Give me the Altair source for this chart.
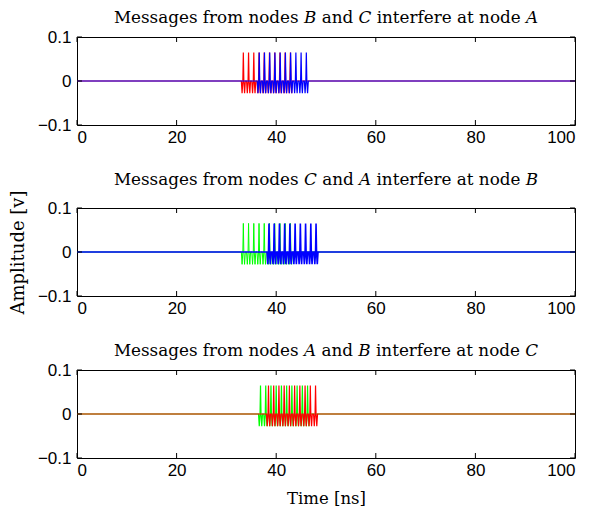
import altair as alt
import pandas as pd

# ---------------- data ----------------
x_ticks = [0, 20, 40, 60, 80, 100]
y_ticks = [-0.1, 0, 0.1]
t_span = [0, 100]

# shape of one UWB pulse (offset in ns, amplitude in v)
pulse_offsets = [-0.4, -0.25, -0.1, 0.0, 0.1, 0.25, 0.4]
pulse_values = [0.0, -0.028, 0.0, 0.065, 0.0, -0.028, 0.0]

# pulse arrival times [ns]
p1_red = [33.4, 34.45, 35.5, 36.55, 37.6, 38.65, 39.7, 40.75, 41.8, 42.85]
p1_blue = [36.6, 37.65, 38.7, 39.75, 40.8, 41.85, 42.9, 43.95, 45.0, 46.05]
p2_green = [33.4, 34.45, 35.5, 36.55, 37.6, 38.65, 39.7, 40.75, 41.8, 42.85]
p2_blue = [38.55, 39.6, 40.65, 41.7, 42.75, 43.8, 44.85, 45.9, 46.95, 48.0]
p3_green = [36.85, 37.9, 38.95, 40.0, 41.05, 42.1, 43.15, 44.2, 45.25, 46.3]
p3_red = [38.45, 39.5, 40.55, 41.6, 42.65, 43.7, 44.75, 45.8, 46.85, 47.9]

titles = [
    "Messages from nodes \U0001D435 and \U0001D436 interfere at node \U0001D434",
    "Messages from nodes \U0001D436 and \U0001D434 interfere at node \U0001D435",
    "Messages from nodes \U0001D434 and \U0001D435 interfere at node \U0001D436",
]

RED, GREEN, BLUE = "#ff0000", "#00ff00", "#0000ff"
W, H = 498, 88


def waveform(times):
    t = [t_span[0]]
    v = [0.0]
    for p in times:
        for o, val in zip(pulse_offsets, pulse_values):
            t.append(round(p + o, 3))
            v.append(val)
    t.append(t_span[1])
    v.append(0.0)
    return pd.DataFrame({"t": t, "v": v})


def panel(title, series, ytitle="", xtitle=""):
    xaxis = alt.Axis(values=x_ticks, format="~r", title=xtitle,
                     titleFont="DejaVu Serif", titleFontSize=16.5,
                     titleFontWeight="normal", titlePadding=12)
    yaxis = alt.Axis(values=y_ticks, format="~r", title=ytitle,
                     titleFont="DejaVu Serif", titleFontSize=18,
                     titleFontWeight="normal", titlePadding=10)
    xs = alt.Scale(domain=t_span, nice=False, zero=False)
    ys = alt.Scale(domain=[-0.1, 0.1], nice=False, zero=False)
    X = alt.X("t:Q", scale=xs, axis=xaxis)
    Y = alt.Y("v:Q", scale=ys, axis=yaxis)
    layers = []
    for times, color, sw in series:
        layers.append(
            alt.Chart(waveform(times)).mark_line(color=color, strokeWidth=sw, clip=True)
            .encode(x=X, y=Y)
        )
    xt = pd.DataFrame({"t": x_ticks})
    yt = pd.DataFrame({"v": y_ticks})
    layers.append(alt.Chart(xt).mark_rule(color="black", strokeWidth=1).encode(
        x=X, y=alt.value(H), y2=alt.value(H - 5)))
    layers.append(alt.Chart(xt).mark_rule(color="black", strokeWidth=1).encode(
        x=X, y=alt.value(0), y2=alt.value(5)))
    layers.append(alt.Chart(yt).mark_rule(color="black", strokeWidth=1).encode(
        y=Y, x=alt.value(0), x2=alt.value(5)))
    layers.append(alt.Chart(yt).mark_rule(color="black", strokeWidth=1).encode(
        y=Y, x=alt.value(W - 5), x2=alt.value(W)))
    return alt.layer(*layers).properties(
        width=W, height=H,
        title=alt.Title(title, font="DejaVu Serif", fontSize=16.8, fontWeight="normal",
                        color="black", offset=1),
    )


c1 = panel(titles[0], [(p1_red, RED, 1.2), (p1_blue, BLUE, 1.2)])
c2 = panel(titles[1], [(p2_green, GREEN, 1.0), (p2_blue, BLUE, 1.6)], ytitle="Amplitude [v]")
c3 = panel(titles[2], [(p3_green, GREEN, 1.2), (p3_red, RED, 1.2)], xtitle="Time [ns]")

chart = alt.vconcat(c1, c2, c3, spacing=25).properties(
    padding={"left": 0, "top": 1, "right": 5, "bottom": 0}
).configure_view(stroke="black", strokeWidth=1).configure_axis(
    domain=False, ticks=False, grid=False, labelFont="Liberation Sans",
    labelFontSize=17, labelColor="black", labelPadding=4, titleColor="black"
).configure_axisY(labelPadding=6)

chart.save("out.html", embed_options={"renderer": "svg", "actions": False})
